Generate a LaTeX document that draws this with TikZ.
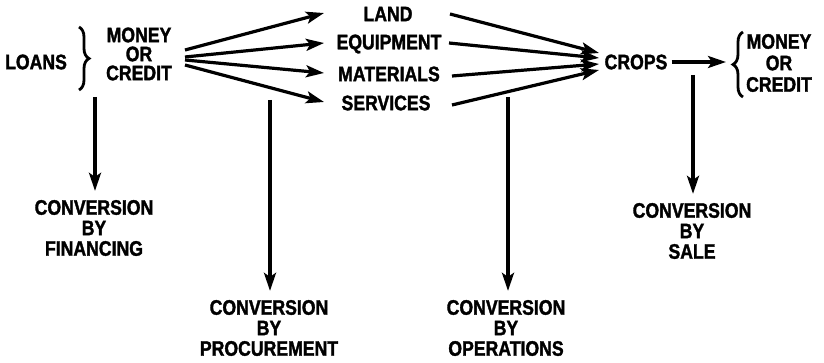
\documentclass[tikz,border=0pt]{standalone}
\usepackage{fontspec}
\setmainfont{Liberation Sans}[FakeStretch=0.84, BoldFeatures={FakeBold=1.6}]
\usetikzlibrary{arrows.meta,decorations.pathreplacing}
\begin{document}
\begin{tikzpicture}[x=1pt,y=1pt,
  lbl/.style={font=\fontsize{21}{20.5}\selectfont\bfseries, align=center, inner sep=0pt},
  arr/.style={line width=3.2pt, -{Stealth[length=18pt,width=12pt,inset=4pt]}},
  brc/.style={decorate, decoration={brace,amplitude=10pt}, line width=2.8pt},
  vshort/.style={shorten >=9pt}]
\useasboundingbox (0,0) rectangle (824,-363);

% top row nodes
\node[lbl] (loans) at (36,-62) {LOANS};
\node[lbl, font=\fontsize{21}{19}\selectfont\bfseries] (money) at (139,-54) {MONEY\\OR\\CREDIT};
\node[lbl] (land)  at (388,-14)  {LAND};
\node[lbl] (equip) at (389,-44)  {EQUIPMENT};
\node[lbl] (mat)   at (389,-74)  {MATERIALS};
\node[lbl] (serv)  at (386,-103) {SERVICES};
\node[lbl] (crops) at (636,-62)  {CROPS};
\node[lbl, font=\fontsize{21}{21.5}\selectfont\bfseries] (money2) at (779,-63) {MONEY\\OR\\CREDIT};

% bottom labels
\node[lbl] (fin)  at (94,-228)  {CONVERSION\\BY\\FINANCING};
\node[lbl] (proc) at (269,-328) {CONVERSION\\BY\\PROCUREMENT};
\node[lbl] (oper) at (506,-328) {CONVERSION\\BY\\OPERATIONS};
\node[lbl] (sale) at (692,-231) {CONVERSION\\BY\\SALE};

% braces
\draw[brc] (79,-27) -- (79,-90);
\draw[brc] (743,-97) -- (743,-32);

% fan-out coordinates
\coordinate (f1) at (185,-50);
\coordinate (f2) at (185,-57);
\coordinate (f3) at (185,-60);
\coordinate (f4) at (185,-65);
\coordinate (t1) at (324,-13);
\coordinate (t2) at (324,-43);
\coordinate (t3) at (324,-73);
\coordinate (t4) at (324,-102);
\draw[arr] (f1) -- (t1);
\draw[arr] (f2) -- (t2);
\draw[arr] (f3) -- (t3);
\draw[arr] (f4) -- (t4);

% fan-in coordinates
\coordinate (r1) at (450,-14);
\coordinate (r2) at (449,-43);
\coordinate (r3) at (452,-76);
\coordinate (r4) at (452,-105);
\coordinate (c1) at (599,-53);
\coordinate (c2) at (599,-58);
\coordinate (c3) at (599,-64);
\coordinate (c4) at (599,-70);
\draw[arr] (r1) -- (c1);
\draw[arr] (r2) -- (c2);
\draw[arr] (r3) -- (c3);
\draw[arr] (r4) -- (c4);

% crops to money
\coordinate (bt) at (726,-62);
\draw[arr, shorten <=4pt] (crops.east) -- (bt);

% vertical conversions
\coordinate (v1) at (95,-97);
\coordinate (v2) at (270,-100);
\coordinate (v3) at (508,-97);
\coordinate (v4) at (693,-75);
\draw[arr, vshort] (v1) -- (v1 |- fin.north);
\draw[arr, vshort] (v2) -- (v2 |- proc.north);
\draw[arr, vshort] (v3) -- (v3 |- oper.north);
\draw[arr, vshort] (v4) -- (v4 |- sale.north);
\end{tikzpicture}
\end{document}
